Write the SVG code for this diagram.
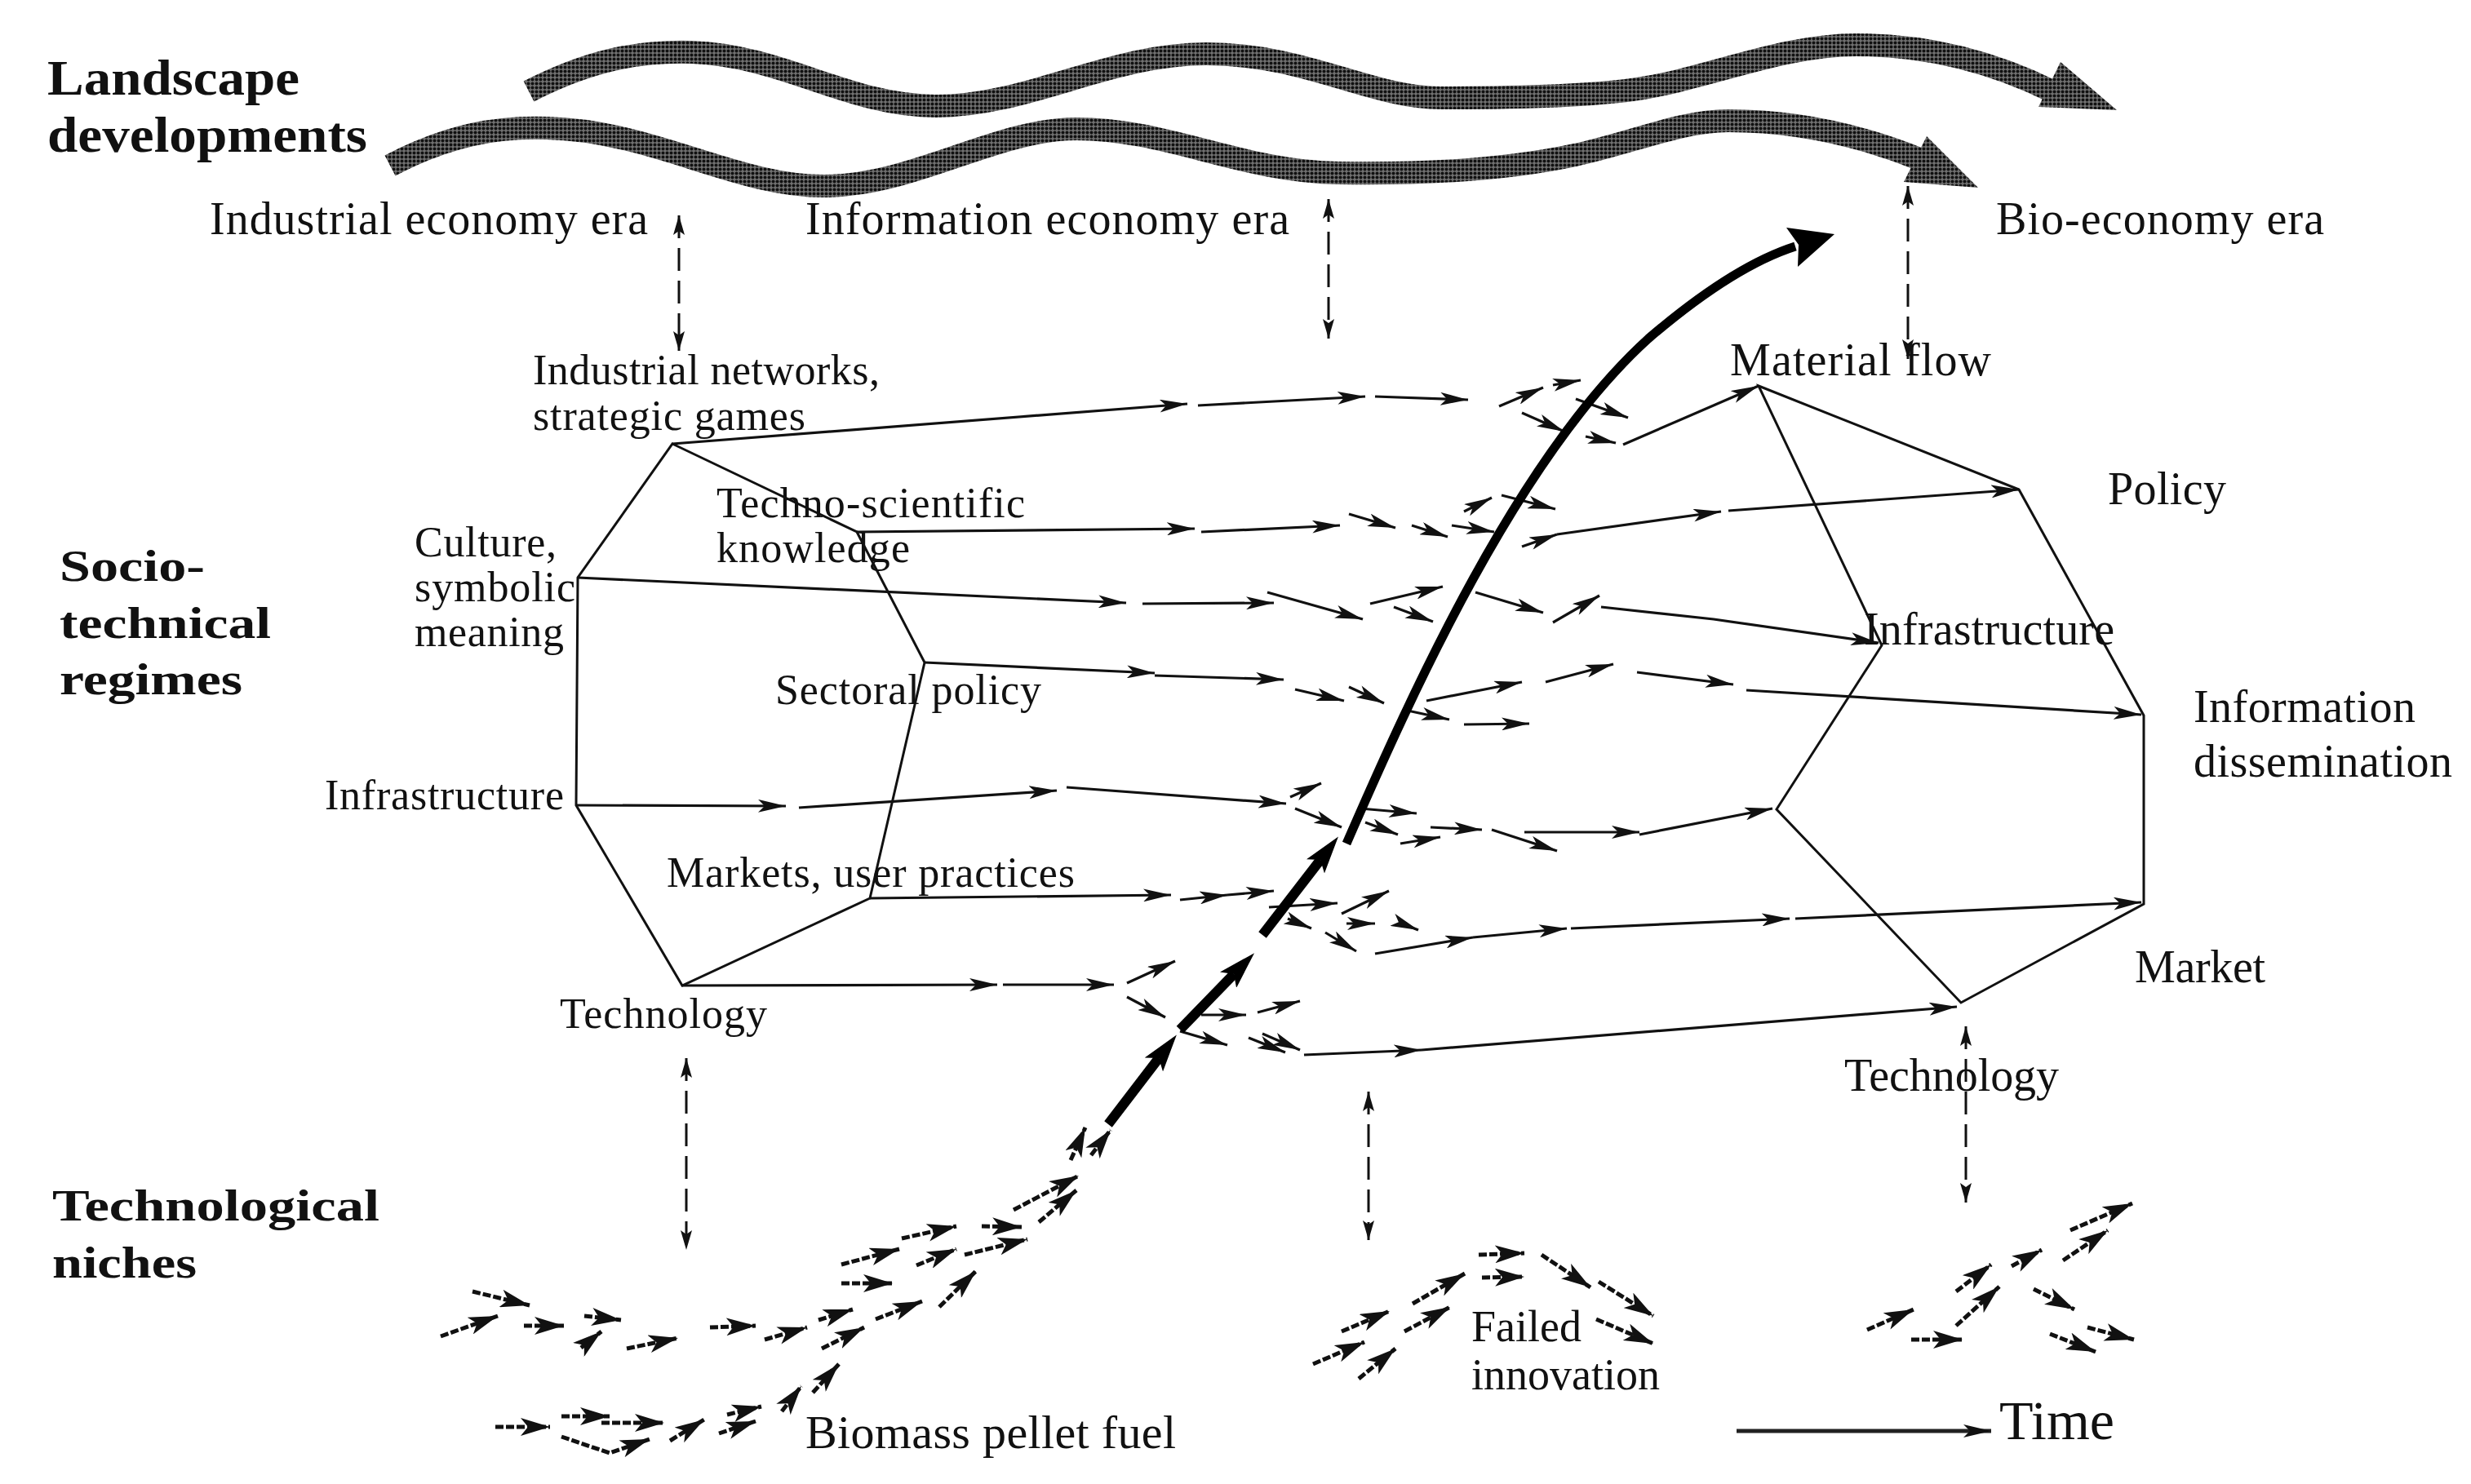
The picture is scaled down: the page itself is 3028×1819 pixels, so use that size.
<svg xmlns="http://www.w3.org/2000/svg" width="3028" height="1819" viewBox="0 0 3028 1819">
<style>
.t{font-family:"Liberation Serif","Times New Roman",serif;fill:#111}
.h{font-weight:bold}
.ln{stroke:#111;stroke-width:3;fill:none}
.tr{stroke:#111;stroke-width:3.2;fill:none;marker-end:url(#ah)}
.ni{stroke:#111;stroke-width:5;stroke-dasharray:10 3;fill:none;marker-end:url(#an)}
.da{stroke:#111;stroke-width:3;stroke-dasharray:28 12;fill:none;marker-start:url(#ad);marker-end:url(#ad)}
.tk{stroke:#000;stroke-width:12;fill:none;marker-end:url(#ab)}
.wave{stroke:url(#dots);stroke-width:28;fill:none}
</style>
<defs>
<pattern id="dots" width="5" height="5" patternUnits="userSpaceOnUse"><rect width="5" height="5" fill="#707070"/><circle cx="2.5" cy="2.5" r="2" fill="#111"/></pattern>
<marker id="ah" viewBox="0 0 34 16" refX="34" refY="8" markerWidth="34" markerHeight="16" markerUnits="userSpaceOnUse" orient="auto"><path d="M0,0 L34,8 L0,16 L8,8 z" fill="#111"/></marker>
<marker id="an" viewBox="0 0 36 22" refX="36" refY="11" markerWidth="36" markerHeight="22" markerUnits="userSpaceOnUse" orient="auto"><path d="M0,0 L36,11 L0,22 L9,11 z" fill="#111"/></marker>
<marker id="ad" viewBox="0 0 24 14" refX="24" refY="7" markerWidth="24" markerHeight="14" markerUnits="userSpaceOnUse" orient="auto-start-reverse"><path d="M0,0 L24,7 L0,14 L5,7 z" fill="#111"/></marker>
<marker id="ab" viewBox="0 0 46 28" refX="10" refY="14" markerWidth="46" markerHeight="28" markerUnits="userSpaceOnUse" orient="auto"><path d="M0,0 L46,14 L0,28 L10,14 z" fill="#000"/></marker>
</defs>
<rect width="3028" height="1819" fill="#fff"/>

<g id="landscape-waves">
<path class="wave" d="M648,112 C720,75 780,62 848,64 C960,68 1040,130 1147,130 C1260,130 1360,66 1478,66 C1600,66 1680,120 1765,120 C1860,120 1940,118 2000,110 C2090,98 2180,55 2275,55 C2380,55 2460,85 2515,112"/>
<polygon points="2525,76 2594,135 2498,131" fill="url(#dots)"/>
<path class="wave" d="M478,203 C550,165 610,155 670,157 C800,160 900,228 1010,228 C1120,228 1220,158 1319,158 C1430,158 1520,210 1640,212 C1760,214 1860,205 1930,190 C2000,175 2060,148 2118,148 C2210,148 2290,170 2352,195"/>
<polygon points="2361,167 2424,230 2333,223" fill="url(#dots)"/>
</g>

<g id="level-labels">
<text class="t h" x="58" y="116" font-size="62" textLength="309" lengthAdjust="spacingAndGlyphs">Landscape</text>
<text class="t h" x="58" y="186" font-size="62" textLength="392" lengthAdjust="spacingAndGlyphs">developments</text>
<text class="t h" x="73" y="712" font-size="54" textLength="178" lengthAdjust="spacingAndGlyphs">Socio-</text>
<text class="t h" x="73" y="782" font-size="54" textLength="259" lengthAdjust="spacingAndGlyphs">technical</text>
<text class="t h" x="73" y="851" font-size="54" textLength="224" lengthAdjust="spacingAndGlyphs">regimes</text>
<text class="t h" x="64" y="1496" font-size="54" textLength="401" lengthAdjust="spacingAndGlyphs">Technological</text>
<text class="t h" x="64" y="1566" font-size="54" textLength="177" lengthAdjust="spacingAndGlyphs">niches</text>
</g>

<g id="era-industrial"><text class="t" x="257" y="287" font-size="56" textLength="537">Industrial economy era</text></g>
<g id="era-information"><text class="t" x="987" y="287" font-size="56" textLength="593">Information economy era</text></g>
<g id="era-bio"><text class="t" x="2446" y="287" font-size="56" textLength="402">Bio-economy era</text></g>

<g id="regime-left">
<polygon class="ln" points="824,544 1050,652 1133,812 1066,1101 836,1208 706,987 708,708"/>
<text class="t" x="653" y="471" font-size="52" textLength="425">Industrial networks,</text>
<text class="t" x="653" y="527" font-size="52" textLength="334">strategic games</text>
<text class="t" x="878" y="634" font-size="52" textLength="378">Techno-scientific</text>
<text class="t" x="878" y="689" font-size="52" textLength="237">knowledge</text>
<text class="t" x="508" y="682" font-size="52" textLength="174">Culture,</text>
<text class="t" x="508" y="737" font-size="52" textLength="197">symbolic</text>
<text class="t" x="508" y="792" font-size="52" textLength="183">meaning</text>
<text class="t" x="950" y="863" font-size="52" textLength="326">Sectoral policy</text>
<text class="t" x="398" y="992" font-size="52" textLength="293">Infrastructure</text>
<text class="t" x="817" y="1087" font-size="52" textLength="500">Markets, user practices</text>
<text class="t" x="686" y="1260" font-size="52" textLength="254">Technology</text>
</g>

<g id="regime-right">
<polygon class="ln" points="2155,473 2474,600 2627,877 2627,1108 2403,1229 2177,992 2306,791"/>
<text class="t" x="2120" y="460" font-size="56" textLength="320">Material flow</text>
<text class="t" x="2583" y="618" font-size="56" textLength="145">Policy</text>
<text class="t" x="2284" y="790" font-size="56" textLength="307">Infrastructure</text>
<text class="t" x="2688" y="885" font-size="56" textLength="272">Information</text>
<text class="t" x="2688" y="952" font-size="56" textLength="317">dissemination</text>
<text class="t" x="2616" y="1204" font-size="56" textLength="160">Market</text>
<text class="t" x="2260" y="1337" font-size="56" textLength="263">Technology</text>
</g>

<g id="niche-biomass"><text class="t" x="987" y="1775" font-size="58" textLength="454">Biomass pellet fuel</text></g>
<g id="niche-failed"><text class="t" x="1803" y="1644" font-size="54" textLength="135">Failed</text><text class="t" x="1803" y="1703" font-size="54" textLength="231">innovation</text></g>
<g id="time-axis"><text class="t" x="2450" y="1764" font-size="68" textLength="141">Time</text></g>

<g id="connectors">
<path class="da" d="M832,264 L832,430"/>
<path class="da" d="M1628,244 L1628,415"/>
<path class="da" d="M2338,228 L2338,440"/>
<path class="da" d="M841,1297 L841,1532"/>
<path class="da" d="M1677,1338 L1677,1520"/>
<path class="da" d="M2409,1258 L2409,1474"/>
<path d="M2128,1754 L2440,1754" stroke="#222" stroke-width="5" fill="none" marker-end="url(#ah)"/>

<path class="tr" d="M824,544 L1455,495"/>
<path class="tr" d="M1468,497 L1673,486"/>
<path class="tr" d="M1685,486 L1799,490"/>
<path class="tr" d="M1837,498 L1891,475"/>
<path class="tr" d="M1903,472 L1937,466"/>
<path class="tr" d="M1931,489 L1995,512"/>
<path class="tr" d="M1865,506 L1917,529"/>
<path class="tr" d="M1943,535 L1980,543"/>
<path class="tr" d="M1989,545 L2155,473"/>

<path class="tr" d="M1050,652 L1464,648"/>
<path class="tr" d="M1472,652 L1642,644"/>
<path class="tr" d="M1653,630 L1710,647"/>
<path class="tr" d="M1730,644 L1774,658"/>
<path class="tr" d="M1779,644 L1831,652"/>
<path class="tr" d="M1794,627 L1828,610"/>
<path class="tr" d="M1840,607 L1906,624"/>
<path class="tr" d="M1865,670 L1908,655"/>
<path class="tr" d="M1908,655 L2109,627"/>
<path class="tr" d="M2118,626 L2474,600"/>

<path class="tr" d="M708,708 L1380,739"/>
<path class="tr" d="M1400,740 L1561,739"/>
<path class="tr" d="M1553,726 L1670,759"/>
<path class="tr" d="M1679,740 L1768,719"/>
<path class="tr" d="M1708,744 L1756,762"/>
<path class="tr" d="M1808,726 L1891,751"/>
<path class="tr" d="M1903,763 L1960,730"/>
<path class="tr" d="M1962,744 L2100,759 L2302,788"/>

<path class="tr" d="M1133,812 L1415,825"/>
<path class="tr" d="M1415,828 L1573,833"/>
<path class="tr" d="M1587,845 L1647,859"/>
<path class="tr" d="M1653,842 L1696,862"/>
<path class="tr" d="M1748,859 L1865,836"/>
<path class="tr" d="M1894,836 L1977,814"/>
<path class="tr" d="M1725,871 L1776,882"/>
<path class="tr" d="M1794,888 L1874,887" stroke-width="5"/>
<path class="tr" d="M2006,824 L2124,839"/>
<path class="tr" d="M2140,846 L2624,876"/>

<path class="tr" d="M706,987 L963,988"/>
<path class="tr" d="M979,990 L1295,969"/>
<path class="tr" d="M1307,965 L1576,985"/>
<path class="tr" d="M1581,977 L1619,960"/>
<path class="tr" d="M1587,991 L1644,1014"/>
<path class="tr" d="M1667,991 L1736,997"/>
<path class="tr" d="M1673,1008 L1713,1023"/>
<path class="tr" d="M1716,1034 L1765,1026"/>
<path class="tr" d="M1753,1014 L1816,1017"/>
<path class="tr" d="M1828,1017 L1908,1043"/>
<path class="tr" d="M1868,1020 L2009,1020"/>
<path class="tr" d="M2009,1023 L2172,991"/>

<path class="tr" d="M1066,1101 L1435,1097"/>
<path class="tr" d="M1446,1103 L1504,1097"/>
<path class="tr" d="M1504,1097 L1561,1092"/>
<path class="tr" d="M1555,1112 L1639,1107"/>
<path class="tr" d="M1578,1126 L1607,1138"/>
<path class="tr" d="M1644,1120 L1702,1092"/>
<path class="tr" d="M1650,1132 L1685,1132"/>
<path class="tr" d="M1718,1132 L1738,1140"/>
<path class="tr" d="M1624,1143 L1662,1166"/>
<path class="tr" d="M1685,1169 L1805,1149"/>
<path class="tr" d="M1805,1149 L1920,1138"/>
<path class="tr" d="M1925,1138 L2193,1126"/>
<path class="tr" d="M2200,1126 L2624,1106"/>

<path class="tr" d="M836,1208 L1222,1207"/>
<path class="tr" d="M1229,1207 L1365,1207"/>
<path class="tr" d="M1381,1205 L1440,1178"/>
<path class="tr" d="M1381,1222 L1428,1247"/>
<path class="tr" d="M1472,1244 L1527,1244"/>
<path class="tr" d="M1541,1241 L1593,1227"/>
<path class="tr" d="M1446,1264 L1504,1281"/>
<path class="tr" d="M1530,1272 L1575,1290"/>
<path class="tr" d="M1547,1267 L1593,1287"/>
<path class="tr" d="M1598,1293 L1742,1287"/>
<path class="tr" d="M1742,1287 L2398,1234"/>

<path class="tk" d="M1358,1378 L1420,1297"/>
<path class="tk" d="M1446,1262 L1512,1194"/>
<path class="tk" d="M1547,1146 L1618,1054"/>
<path d="M1650,1034 C1730,850 1860,560 2020,415 C2090,355 2150,318 2200,302" stroke="#000" stroke-width="11" fill="none"/>
<polygon points="2248,287 2189,279 2204,300 2203,327" fill="#000"/>

<path class="ni" d="M579,1583 L649,1600"/>
<path class="ni" d="M540,1638 L610,1613"/>
<path class="ni" d="M642,1625 L691,1625"/>
<path class="ni" d="M716,1613 L761,1618"/>
<path class="ni" d="M712,1652 L737,1632"/>
<path class="ni" d="M768,1653 L831,1640"/>
<path class="ni" d="M870,1627 L926,1625"/>
<path class="ni" d="M937,1642 L989,1627"/>
<path class="ni" d="M1003,1618 L1045,1605"/>
<path class="ni" d="M1007,1653 L1059,1627"/>
<path class="ni" d="M1073,1617 L1130,1595"/>
<path class="ni" d="M1151,1602 L1196,1558"/>
<path class="ni" d="M1031,1573 L1094,1573"/>
<path class="ni" d="M1031,1550 L1102,1531"/>
<path class="ni" d="M1123,1551 L1172,1531"/>
<path class="ni" d="M1182,1538 L1259,1519"/>
<path class="ni" d="M1105,1518 L1172,1503"/>
<path class="ni" d="M1203,1503 L1252,1504"/>
<path class="ni" d="M1242,1483 L1322,1441"/>
<path class="ni" d="M1273,1498 L1319,1459"/>
<path class="ni" d="M1312,1422 L1330,1382"/>
<path class="ni" d="M1337,1416 L1361,1385"/>
<path class="ni" d="M607,1749 L674,1749"/>
<path class="ni" d="M688,1736 L747,1736"/>
<path class="ni" d="M737,1744 L814,1744"/>
<path class="ni" d="M688,1761 L747,1781 L796,1764"/>
<path class="ni" d="M821,1766 L863,1740"/>
<path class="ni" d="M881,1757 L926,1742"/>
<path class="ni" d="M891,1734 L933,1724"/>
<path class="ni" d="M958,1730 L982,1699"/>
<path class="ni" d="M996,1707 L1028,1672"/>

<path class="ni" d="M1609,1672 L1672,1645"/>
<path class="ni" d="M1644,1632 L1703,1607"/>
<path class="ni" d="M1665,1690 L1710,1653"/>
<path class="ni" d="M1721,1632 L1777,1602"/>
<path class="ni" d="M1731,1598 L1795,1561"/>
<path class="ni" d="M1812,1538 L1868,1536"/>
<path class="ni" d="M1816,1566 L1868,1565"/>
<path class="ni" d="M1889,1538 L1949,1578"/>
<path class="ni" d="M1959,1571 L2026,1613"/>
<path class="ni" d="M1956,1617 L2026,1647"/>

<path class="ni" d="M2288,1630 L2345,1605"/>
<path class="ni" d="M2342,1642 L2405,1642"/>
<path class="ni" d="M2397,1625 L2450,1577"/>
<path class="ni" d="M2397,1583 L2440,1550"/>
<path class="ni" d="M2465,1552 L2502,1532"/>
<path class="ni" d="M2528,1545 L2583,1508"/>
<path class="ni" d="M2537,1508 L2613,1475"/>
<path class="ni" d="M2492,1580 L2542,1605"/>
<path class="ni" d="M2512,1635 L2568,1657"/>
<path class="ni" d="M2558,1627 L2615,1642"/>
</g>
</svg>
